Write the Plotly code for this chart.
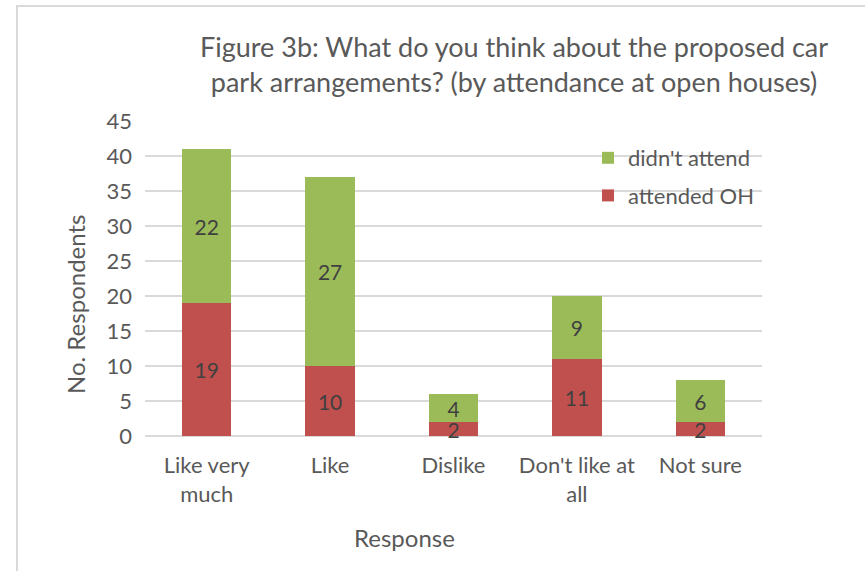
import plotly.graph_objects as go

categories = ["Like very<br>much", "Like", "Dislike", "Don't like at<br>all", "Not sure"]
attended_oh = [19, 10, 2, 11, 2]
didnt_attend = [22, 27, 4, 9, 6]
y_ticks = [0, 5, 10, 15, 20, 25, 30, 35, 40, 45]

RED = "#C0504D"
GREEN = "#9BBB59"
TEXT = "#595959"
LABEL = "#404040"
GRID = "#D9D9D9"
FONT = "Lato, Open Sans, sans-serif"

fig = go.Figure()
fig.add_trace(go.Bar(
    x=categories, y=attended_oh, name="attended OH",
    marker=dict(color=RED, line=dict(width=0)),
    text=attended_oh, textposition="inside", insidetextanchor="middle",
    textangle=0, constraintext="none", cliponaxis=False,
    textfont=dict(family=FONT, size=21, color=LABEL),
    legendgroup="a", legendrank=2,
))
fig.add_trace(go.Bar(
    x=categories, y=didnt_attend, name="didn't attend",
    marker=dict(color=GREEN, line=dict(width=0)),
    text=didnt_attend, textposition="inside", insidetextanchor="middle",
    textangle=0, constraintext="none", cliponaxis=False,
    textfont=dict(family=FONT, size=21, color=LABEL),
    legendgroup="b", legendrank=1,
))

W, H = 865, 571
L, R, T, B = 145, 103, 121, 135
pw, ph = W - L - R, H - T - B

def px_x(p):
    return (p - L) / pw

def px_y(p):
    return (H - B - p) / ph

fig.update_layout(
    width=W, height=H,
    margin=dict(l=L, r=R, t=T, b=B),
    paper_bgcolor="white", plot_bgcolor="white",
    barmode="stack", bargap=0.6,
    font=dict(family=FONT, color=TEXT, size=22),
    showlegend=True,
    legend=dict(
        x=px_x(588), y=px_y(137), xanchor="left", yanchor="top",
        traceorder="grouped", tracegroupgap=6,
        font=dict(family=FONT, size=22, color=TEXT),
        bgcolor="rgba(0,0,0,0)", itemwidth=30,
    ),
    xaxis=dict(
        showgrid=False, showline=False, ticks="", ticklabelstandoff=14,
        tickfont=dict(family=FONT, size=22, color=TEXT),
    ),
    yaxis=dict(
        range=[0, 45], tickvals=y_ticks, showgrid=True, gridcolor=GRID, gridwidth=1.5,
        zeroline=True, zerolinecolor=GRID, zerolinewidth=1.5,
        showline=False, ticks="", ticklabelstandoff=12,
        tickfont=dict(family=FONT, size=22, color=TEXT),
    ),
    annotations=[
        dict(
            text="Figure 3b: What do you think about the proposed car<br>park arrangements? (by attendance at open houses)",
            x=px_x(514), y=px_y(64), xref="paper", yref="paper",
            xanchor="center", yanchor="middle", showarrow=False,
            font=dict(family=FONT, size=27, color=TEXT), align="center",
        ),
        dict(
            text="Response", x=px_x(404), y=px_y(537), xref="paper", yref="paper",
            xanchor="center", yanchor="middle", showarrow=False,
            font=dict(family=FONT, size=24, color=TEXT),
        ),
        dict(
            text="No. Respondents", x=px_x(75), y=px_y(305), xref="paper", yref="paper",
            xanchor="center", yanchor="middle", showarrow=False, textangle=-90,
            font=dict(family=FONT, size=24, color=TEXT),
        ),
    ],
    shapes=[
        dict(type="line", xref="paper", yref="paper", x0=px_x(17), x1=px_x(17),
             y0=px_y(6), y1=px_y(H + 5), line=dict(color=GRID, width=2)),
        dict(type="line", xref="paper", yref="paper", x0=px_x(16), x1=px_x(W + 5),
             y0=px_y(6), y1=px_y(6), line=dict(color=GRID, width=2)),
    ],
)

fig.write_html("out.html")
